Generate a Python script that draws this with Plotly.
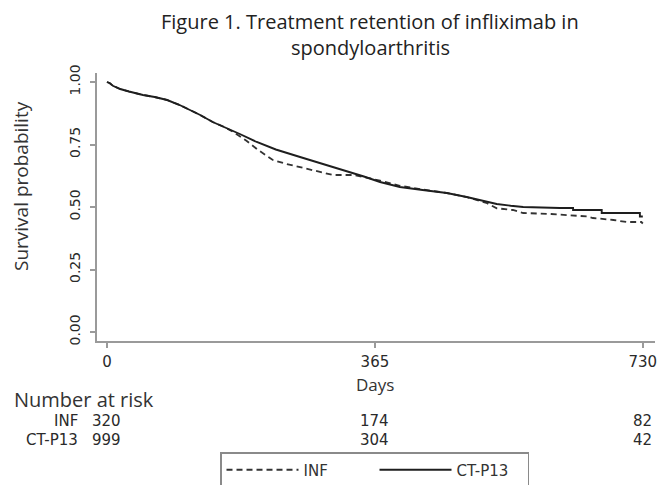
import plotly.graph_objects as go

# ---- data ----
days_ct = [0, 4, 8, 18, 30, 49, 65, 82, 99, 115, 127, 144, 160, 181, 204, 230, 263, 300,
           331, 350, 372, 399, 430, 463, 490, 518, 531, 550, 567, 617, 635, 635, 674, 674,
           726, 726, 730]
surv_ct = [1.00, 0.995, 0.985, 0.972, 0.962, 0.948, 0.94, 0.928, 0.908, 0.885, 0.868,
           0.84, 0.82, 0.792, 0.76, 0.73, 0.70, 0.668, 0.64, 0.622, 0.60, 0.58, 0.568,
           0.556, 0.54, 0.52, 0.512, 0.505, 0.50, 0.496, 0.496, 0.488, 0.488, 0.476,
           0.476, 0.462, 0.462]

days_inf = [0, 4, 8, 18, 30, 49, 65, 82, 99, 115, 127, 144, 160, 172, 190, 205, 226, 245,
            263, 285, 308, 335, 350, 372, 399, 430, 463, 490, 518, 531, 553, 567, 605,
            655, 662, 690, 708, 728, 730]
surv_inf = [1.00, 0.995, 0.985, 0.972, 0.962, 0.948, 0.94, 0.928, 0.908, 0.885, 0.868,
            0.84, 0.82, 0.80, 0.765, 0.73, 0.688, 0.672, 0.66, 0.645, 0.628, 0.628, 0.62,
            0.605, 0.585, 0.57, 0.556, 0.54, 0.515, 0.495, 0.488, 0.476, 0.472, 0.462,
            0.456, 0.448, 0.44, 0.44, 0.434]

x_ticks = [0, 365, 730]
y_ticks = [0.00, 0.25, 0.50, 0.75, 1.00]
y_tick_labels = ["0.00", "0.25", "0.50", "0.75", "1.00"]
risk_groups = ["INF", "CT-P13"]
risk_inf = [320, 174, 82]
risk_ct = [999, 304, 42]

title_lines = ["Figure 1. Treatment retention of infliximab in", "spondyloarthritis"]

# ---- figure ----
fig = go.Figure()
fig.add_trace(go.Scatter(x=days_inf, y=surv_inf, mode="lines", name="INF",
                         line=dict(color="#333333", width=1.8, dash="6px,4px")))
fig.add_trace(go.Scatter(x=days_ct, y=surv_ct, mode="lines", name="CT-P13",
                         line=dict(color="#1e1e1e", width=1.9)))

# plot area in pixels: left 97, right 655, top 73, bottom 341
PL, PR, PT, PB = 97, 655, 73, 341
W, H = 662, 485


def px_x(p):
    return (p - PL) / (PR - PL)


def px_y(p):
    return (PB - p) / (PB - PT)


axis_col = "#9a9a9a"
num_font = dict(family="DejaVu Sans", size=15, color="#2a2a2a")
fig.update_layout(
    width=W, height=H,
    margin=dict(l=PL, r=W - PR, t=PT, b=H - PB, autoexpand=False),
    paper_bgcolor="white", plot_bgcolor="white",
    showlegend=True,
    legend=dict(orientation="h", x=px_x(374.5), xanchor="center", y=px_y(452),
                yanchor="top",
                bordercolor="#8a8a8a", borderwidth=1.5, bgcolor="white",
                font=dict(family="DejaVu Sans", size=15, color="#333333"),
                itemwidth=72, entrywidth=66, traceorder="normal"),
    xaxis=dict(range=[-13.6, 746.6], tickvals=x_ticks, ticktext=[str(v) for v in x_ticks],
               showgrid=False, zeroline=False, showline=True, linecolor=axis_col, linewidth=2,
               ticks="outside", ticklen=5, tickcolor=axis_col, tickwidth=1.5,
               ticklabelstandoff=1, tickfont=num_font),
    yaxis=dict(range=[-0.036, 1.036], tickvals=y_ticks, ticktext=y_tick_labels,
               tickangle=-90,
               showgrid=False, zeroline=False, showline=True, linecolor=axis_col, linewidth=2,
               ticks="outside", ticklen=5, tickcolor=axis_col, tickwidth=1.5,
               ticklabelstandoff=4,
               tickfont=dict(family="DejaVu Sans", size=14, color="#2a2a2a")),
)

text_font = "Open Sans"
ann = []
# title
ann.append(dict(text=title_lines[0], xref="paper", yref="paper", x=px_x(370),
                y=px_y(22), showarrow=False, xanchor="center", yanchor="middle",
                font=dict(family=text_font, size=20, color="#222222")))
ann.append(dict(text=title_lines[1], xref="paper", yref="paper", x=px_x(370),
                y=px_y(48), showarrow=False, xanchor="center", yanchor="middle",
                font=dict(family=text_font, size=20, color="#222222")))
# y title
ann.append(dict(text="Survival probability", xref="paper", yref="paper", x=px_x(21),
                y=px_y(186), showarrow=False, xanchor="center", yanchor="middle",
                textangle=-90, font=dict(family=text_font, size=19, color="#333333")))
# x title
ann.append(dict(text="Days", xref="x", yref="paper", x=365, y=px_y(384),
                showarrow=False, xanchor="center", yanchor="middle",
                font=dict(family=text_font, size=17, color="#333333")))
# risk table
ann.append(dict(text="Number at risk", xref="paper", yref="paper", x=px_x(12),
                y=px_y(399), showarrow=False, xanchor="left", yanchor="middle",
                font=dict(family=text_font, size=20, color="#333333")))
row_y = [421, 440]
for gi, (g, vals) in enumerate(zip(risk_groups, [risk_inf, risk_ct])):
    ann.append(dict(text=g, xref="paper", yref="paper", x=px_x(80),
                    y=px_y(row_y[gi]), showarrow=False, xanchor="right",
                    yanchor="middle", font=num_font))
    for d, v in zip(x_ticks, vals):
        ann.append(dict(text=str(v), xref="x", yref="paper", x=d,
                        y=px_y(row_y[gi]), showarrow=False, xanchor="center",
                        yanchor="middle", font=num_font))
fig.update_layout(annotations=ann)

fig.write_html("out.html")
